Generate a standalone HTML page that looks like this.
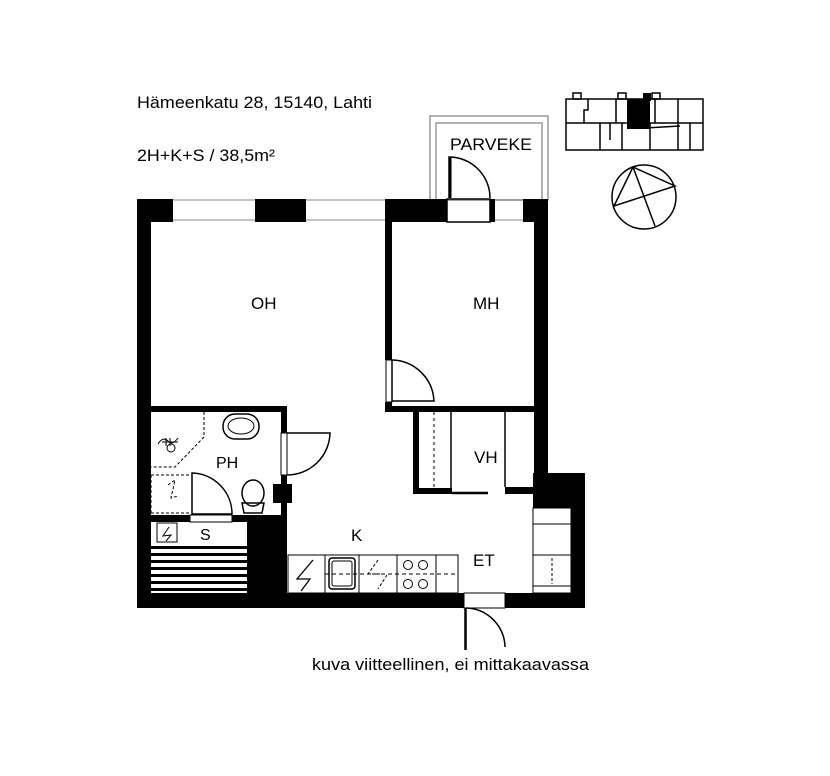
<!DOCTYPE html>
<html><head><meta charset="utf-8"><style>html,body{margin:0;padding:0;background:#fff}svg{display:block}</style></head>
<body>
<svg width="830" height="776" viewBox="0 0 830 776" xmlns="http://www.w3.org/2000/svg" font-family="Liberation Sans, Arial, sans-serif">
<rect width="830" height="776" fill="#fff"/>
<text x="137" y="108" font-size="17" textLength="235" lengthAdjust="spacingAndGlyphs">Hämeenkatu 28, 15140, Lahti</text>
<text x="137" y="161" font-size="17" textLength="138" lengthAdjust="spacingAndGlyphs">2H+K+S / 38,5m²</text>
<!-- balcony -->
<rect x="430" y="116" width="118" height="84" fill="none" stroke="#999" stroke-width="1.5"/>
<rect x="436" y="123" width="106" height="77" fill="none" stroke="#999" stroke-width="1.5"/>
<text x="450" y="150" font-size="17" textLength="82" lengthAdjust="spacingAndGlyphs">PARVEKE</text>
<path d="M449 198 L449 157 A41 41 0 0 1 490 198" fill="none" stroke="#000" stroke-width="1.5"/>
<line x1="450" y1="157" x2="450" y2="198" stroke="#000" stroke-width="3"/>
<g fill="#000">
<rect x="137" y="199" width="36" height="23"/>
<rect x="255" y="199" width="51" height="23"/>
<rect x="385" y="199" width="62" height="23"/>
<rect x="490" y="199" width="5" height="23"/>
<rect x="523" y="199" width="25" height="23"/>
<rect x="137" y="199" width="14" height="409"/>
<rect x="534" y="199" width="14" height="290"/>
<rect x="533" y="473" width="52" height="35"/>
<rect x="571" y="473" width="14" height="135"/>
<rect x="137" y="593" width="327" height="15"/>
<rect x="505" y="593" width="80" height="15"/>
<rect x="385" y="222" width="7" height="138"/>
<rect x="385" y="402" width="7" height="10"/>
<rect x="385" y="406" width="149" height="6"/>
<rect x="413" y="412" width="6" height="82"/>
<rect x="413" y="488" width="39" height="6"/>
<rect x="505" y="487" width="29" height="7"/>
<rect x="137" y="406" width="150" height="6"/>
<rect x="281" y="406" width="6" height="27"/>
<rect x="281" y="475" width="6" height="40"/>
<rect x="273" y="484" width="19" height="19"/>
<rect x="151" y="515" width="39" height="7"/>
<rect x="232" y="515" width="55" height="7"/>
<rect x="247" y="515" width="40" height="78"/>
</g>
<g stroke="#000" stroke-width="1" fill="none">
<line x1="173" y1="200" x2="255" y2="200" stroke="#888"/><line x1="173" y1="220" x2="255" y2="220" stroke="#888"/>
<line x1="306" y1="200" x2="385" y2="200" stroke="#888"/><line x1="306" y1="220" x2="385" y2="220" stroke="#888"/>
<line x1="495" y1="200" x2="523" y2="200" stroke="#888"/><line x1="495" y1="220" x2="523" y2="220" stroke="#888"/>
<rect x="447" y="199" width="43" height="23" stroke-width="1.5"/>
<line x1="488" y1="493" x2="452" y2="493" stroke-width="2.5"/>
<line x1="505" y1="412" x2="505" y2="487" stroke-width="1.5"/>
<line x1="451" y1="412" x2="451" y2="488" stroke-width="1.5"/>
<line x1="434" y1="412" x2="434" y2="488" stroke-dasharray="3,3"/>
</g>
<rect x="386" y="360" width="6" height="42" fill="#fff" stroke="#000"/>
<path d="M392 401 L392 360 A43 43 0 0 1 434 401 Z" fill="none" stroke="#000" stroke-width="1.5"/>
<rect x="281" y="433" width="6" height="42" fill="#fff" stroke="#000"/>
<path d="M287 433 L330 433 A43 43 0 0 1 287 475" fill="none" stroke="#000" stroke-width="1.5"/>
<rect x="190" y="515" width="42" height="7" fill="#fff" stroke="#000"/>
<path d="M192 514 L192 473 A41 41 0 0 1 232 514 Z" fill="none" stroke="#000" stroke-width="1.5"/>
<g fill="none" stroke="#000" stroke-width="1">
<path d="M204 412 L204 437 L175 467 L151 467" stroke-dasharray="3,2"/>
<path d="M151 475 L190 475 M151 475 L151 513 M151 513 L190 513" stroke-dasharray="3,2"/>
<path d="M168 485 L175 480 L171 498 L178 496" stroke-dasharray="3,2"/>
<rect x="223" y="414" width="36" height="25" rx="12" stroke-width="1.5"/>
<ellipse cx="241" cy="426" rx="13" ry="8"/>
<ellipse cx="253" cy="493" rx="11" ry="13" stroke-width="1.5"/>
<path d="M242 503 L264 503 L262 513 L244 513 Z" stroke-width="1.5"/>
<path d="M158 444 q5 -8 10 -3 q4 5 10 -3" />
<circle cx="171" cy="448" r="4"/>
<line x1="166" y1="438" x2="166" y2="446"/><line x1="170" y1="438" x2="170" y2="446"/><line x1="162" y1="442" x2="178" y2="442"/>
</g>
<text x="216" y="468" font-size="16">PH</text>
<rect x="157" y="523" width="20" height="19" fill="none" stroke="#000"/>
<path d="M169 527 L163 536 L171 535 L166 541" fill="none" stroke="#000"/>
<text x="200" y="540" font-size="16">S</text>
<g fill="#000">
<rect x="151" y="546" width="96" height="3"/><rect x="151" y="553" width="96" height="3"/><rect x="151" y="560" width="96" height="3"/><rect x="151" y="567" width="96" height="3"/><rect x="151" y="574" width="96" height="3"/><rect x="151" y="581" width="96" height="3"/><rect x="151" y="588" width="96" height="3"/>
</g>
<g fill="none" stroke="#000" stroke-width="1">
<rect x="288" y="555" width="170" height="38"/>
<line x1="325" y1="555" x2="325" y2="593"/><line x1="359" y1="555" x2="359" y2="593"/><line x1="397" y1="555" x2="397" y2="593"/><line x1="436" y1="555" x2="436" y2="593"/>
<line x1="325" y1="574" x2="458" y2="574" stroke-dasharray="4,3"/>
<path d="M313 560 L297 579 L310 579 L301 591" stroke-width="1.3"/>
<path d="M378 560 L368 574 M387 575 L378 589 M372 574 L386 574" stroke-dasharray="3,2"/>
<rect x="329" y="558" width="26" height="31" rx="3" stroke-width="1.5"/>
<rect x="332" y="561" width="20" height="25" rx="2"/>
<circle cx="408" cy="565" r="4.5"/><circle cx="423" cy="565" r="4.5"/><circle cx="408" cy="584" r="4.5"/><circle cx="423" cy="584" r="4.5"/>
</g>
<g fill="none" stroke="#000" stroke-width="1">
<rect x="533" y="508" width="38" height="85"/>
<line x1="533" y1="524" x2="571" y2="524"/><line x1="533" y1="555" x2="571" y2="555"/><line x1="533" y1="586" x2="571" y2="586"/>
<line x1="552" y1="558" x2="552" y2="584" stroke-dasharray="3,2"/>
</g>
<rect x="464" y="593" width="41" height="15" fill="#fff" stroke="#000"/>
<path d="M465 608 L465 650 M466 608 L466 650 M466 608 A40 40 0 0 1 505 647" fill="none" stroke="#000" stroke-width="1.5"/>
<text x="251" y="309" font-size="17">OH</text>
<text x="473" y="309" font-size="17">MH</text>
<text x="474" y="463" font-size="17">VH</text>
<text x="351" y="541" font-size="17">K</text>
<text x="473" y="566" font-size="17">ET</text>
<text x="312" y="670" font-size="17" textLength="277" lengthAdjust="spacingAndGlyphs">kuva viitteellinen, ei mittakaavassa</text>
<g fill="none" stroke="#000" stroke-width="1.5">
<rect x="566" y="99" width="137" height="51"/>
<line x1="566" y1="123" x2="703" y2="123"/>
<path d="M588 99 V110 H584 V123 M600 123 V150 M616 99 V123 M628 99 V123 M650 123 V150 M655 99 V123 M678 99 V150 M610 123 V140 M622 123 V150 M690 123 V150 M645 128 L680 126"/>
<circle cx="644" cy="197" r="32"/>
<path d="M633 167 L614 206 L675 186 Z M633 167 L655 226"/>
<rect x="573" y="93" width="8" height="6"/><rect x="618" y="93" width="8" height="6"/><rect x="652" y="93" width="8" height="6"/>
</g>
<rect x="627" y="99" width="23" height="30" fill="#000"/>
<rect x="643" y="93" width="8" height="8" fill="#000"/>
</svg>
</body></html>
